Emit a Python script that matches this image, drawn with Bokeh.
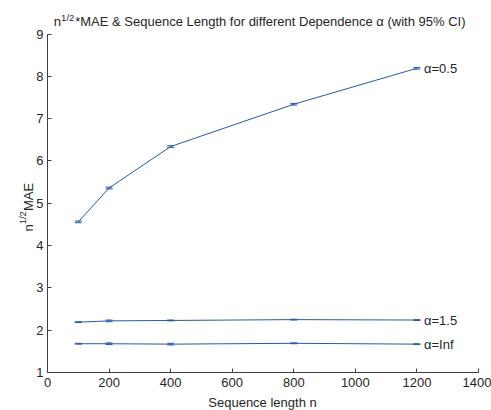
import math
from bokeh.plotting import figure
from bokeh.models import Label, Whisker, TeeHead, ColumnDataSource, FixedTicker, Range1d, LinearAxis
from bokeh.core.properties import value
from bokeh.embed import file_html
from bokeh.resources import INLINE

# ---- data ----
seq_len = [100, 200, 400, 800, 1200]
mae_a05 = [4.56, 5.36, 6.34, 7.34, 8.19]
mae_a15 = [2.19, 2.22, 2.23, 2.25, 2.24]
mae_ainf = [1.68, 1.68, 1.67, 1.69, 1.67]
ci_a05 = [0.02, 0.02, 0.02, 0.02, 0.02]
ci_a15 = [0.01, 0.02, 0.01, 0.01, 0.01]
ci_ainf = [0.01, 0.02, 0.02, 0.01, 0.01]
series_names = ["α=0.5", "α=1.5", "α=Inf"]
x_ticks = [0, 200, 400, 600, 800, 1000, 1200, 1400]
y_ticks = [1, 2, 3, 4, 5, 6, 7, 8, 9]
x_lim = (0, 1400)
y_lim = (1, 9)
title_main = "*MAE & Sequence Length for different Dependence α (with 95% CI)"
x_label = "Sequence length n"

FONT = "Liberation Sans"
LINE = "#2a58aa"
AX = "#404040"
TXT = "#262626"

# layout (pixels): axes box inside the canvas
W, H = 491, 410
LEFT, RIGHT, TOP, BOTTOM = 47, 13, 33.5, 38
sx = (W - LEFT - RIGHT) / (x_lim[1] - x_lim[0])
sy = (H - TOP - BOTTOM) / (y_lim[1] - y_lim[0])

p = figure(width=W, height=H, output_backend="svg", toolbar_location=None,
           x_range=Range1d(x_lim[0] - LEFT / sx, x_lim[1] + RIGHT / sx),
           y_range=Range1d(y_lim[0] - BOTTOM / sy, y_lim[1] + TOP / sy),
           x_axis_location=None, y_axis_location=None,
           min_border_left=0, min_border_right=0, min_border_top=0, min_border_bottom=0)
p.outline_line_color = None
p.grid.visible = False
p.background_fill_color = "white"
p.border_fill_color = "white"

xaxis = LinearAxis(fixed_location=y_lim[0], bounds=x_lim, ticker=FixedTicker(ticks=x_ticks))
yaxis = LinearAxis(fixed_location=x_lim[0], bounds=y_lim, ticker=FixedTicker(ticks=y_ticks))
for ax in (xaxis, yaxis):
    ax.major_tick_in = 4
    ax.major_tick_out = 0
    ax.minor_tick_line_color = None
    ax.axis_line_color = AX
    ax.major_tick_line_color = AX
    ax.major_label_text_color = TXT
    ax.major_label_text_font = FONT
    ax.major_label_text_font_size = "13px"
xaxis.major_label_standoff = 5
yaxis.major_label_standoff = 4
p.add_layout(xaxis, "below")
p.add_layout(yaxis, "left")

all_series = [(mae_a05, ci_a05), (mae_a15, ci_a15), (mae_ainf, ci_ainf)]
for vals, ci in all_series:
    p.line(seq_len, vals, line_color=LINE, line_width=1)
    src = ColumnDataSource(dict(x=seq_len,
                                lo=[v - c for v, c in zip(vals, ci)],
                                hi=[v + c for v, c in zip(vals, ci)]))
    w = Whisker(base="x", lower="lo", upper="hi", source=src, line_color=LINE, line_width=1,
                upper_head=TeeHead(size=7, line_color=LINE, line_width=1),
                lower_head=TeeHead(size=7, line_color=LINE, line_width=1))
    p.add_layout(w)

last_x = [seq_len[-1]] * 3
last_y = [s[0][-1] for s in all_series]
p.text(x=last_x, y=last_y, text=series_names, x_offset=7, text_baseline="middle",
       text_align="left", text_font=value(FONT), text_font_size="13px", text_color=TXT)

def lab(text, x, y, size="13px", angle=0.0, align="left"):
    p.add_layout(Label(text=text, x=x, y=y, x_units="canvas", y_units="canvas",
                       text_font=FONT, text_font_size=size, text_color=TXT,
                       text_baseline="alphabetic", text_align=align, angle=angle))

# title
lab("n", 53.3, 20.5)
lab("1/2", 60.6, 16.5, size="9.5px")
lab(title_main, 74.7, 20.5)
# y axis label (rotated)
lab("n", 28.3, 231, angle=math.pi / 2)
lab("1/2", 21.5, 223.8, size="9.5px", angle=math.pi / 2)
lab("MAE", 28.3, 210.6, angle=math.pi / 2)
# x axis label
lab(x_label, 262, 402, align="center")

open("out.html", "w").write(file_html(p, INLINE))
